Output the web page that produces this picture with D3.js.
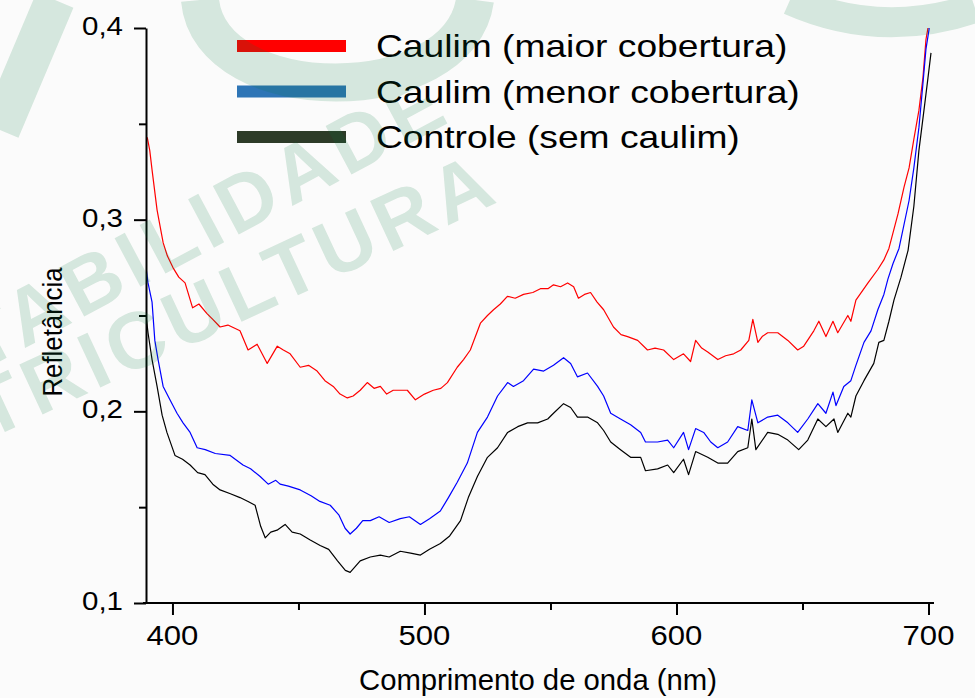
<!DOCTYPE html>
<html>
<head>
<meta charset="utf-8">
<script src="https://cdn.jsdelivr.net/npm/d3@7"></script>
<style>
  body { margin: 0; background: #fbfbfb; }
  svg { display: block; }
</style>
</head>
<body>
<div id="chart"></div>
<script>
let font = "Liberation Sans, Arial, sans-serif"

// dados: [comprimento de onda (nm), refletância]
let maiorCobertura = [
    [390.0, 0.343], [391.0, 0.336], [391.9, 0.326], [393.9, 0.305], [396.3, 0.288], [398.0, 0.281],
    [400.2, 0.275], [402.5, 0.270], [405.0, 0.267], [408.0, 0.254], [410.5, 0.256], [413.7, 0.251],
    [416.0, 0.248], [418.9, 0.244], [422.0, 0.245], [426.8, 0.242], [430.0, 0.232], [433.6, 0.235],
    [437.6, 0.225], [441.6, 0.234], [444.0, 0.232], [446.7, 0.230], [450.7, 0.223], [454.0, 0.224],
    [457.4, 0.221], [460.5, 0.216], [463.8, 0.213], [466.5, 0.209], [469.4, 0.207], [471.7, 0.208],
    [474.5, 0.211], [477.3, 0.215], [480.0, 0.212], [482.5, 0.213], [485.0, 0.209], [487.6, 0.211],
    [490.4, 0.211], [493.2, 0.211], [496.4, 0.206], [500.0, 0.209], [503.5, 0.211], [506.5, 0.212],
    [509.1, 0.215], [513.0, 0.223], [515.5, 0.227], [518.2, 0.232], [522.2, 0.246], [525.0, 0.250],
    [527.4, 0.253], [530.1, 0.256], [532.9, 0.260], [536.0, 0.259], [539.3, 0.261], [543.0, 0.262],
    [546.0, 0.264], [549.0, 0.264], [551.2, 0.266], [554.0, 0.265], [556.8, 0.267], [559.2, 0.265],
    [561.1, 0.259], [563.5, 0.261], [565.9, 0.262], [568.5, 0.257], [571.1, 0.253], [575.0, 0.244],
    [578.0, 0.240], [580.6, 0.239], [584.6, 0.237], [588.5, 0.232], [591.5, 0.233], [594.9, 0.232],
    [598.9, 0.227], [602.8, 0.230], [605.6, 0.226], [607.6, 0.237], [610.0, 0.233], [612.4, 0.231],
    [616.4, 0.227], [619.5, 0.229], [622.7, 0.230], [625.5, 0.232], [628.7, 0.237], [630.3, 0.248],
    [632.3, 0.236], [634.0, 0.239], [636.2, 0.241], [640.2, 0.241], [644.2, 0.237], [648.1, 0.232],
    [650.5, 0.234], [654.5, 0.242], [656.5, 0.247], [659.3, 0.239], [662.1, 0.247], [664.0, 0.241],
    [668.0, 0.250], [669.2, 0.247], [671.2, 0.258], [676.0, 0.267], [679.9, 0.274], [682.3, 0.279],
    [684.3, 0.285], [687.9, 0.303], [690.3, 0.317], [692.3, 0.327], [694.2, 0.342], [696.2, 0.357],
    [697.8, 0.374], [699.0, 0.394], [699.8, 0.400], [700.4, 0.410]
];

let menorCobertura = [
    [389.5, 0.275], [390.3, 0.267], [391.9, 0.257], [393.0, 0.237], [394.3, 0.227], [396.3, 0.213],
    [399.0, 0.206], [401.8, 0.199], [404.2, 0.194], [407.0, 0.189], [409.8, 0.181], [413.0, 0.180],
    [417.0, 0.178], [422.9, 0.177], [428.0, 0.172], [431.0, 0.170], [434.8, 0.166], [438.0, 0.162],
    [441.0, 0.164], [442.7, 0.162], [446.0, 0.161], [450.7, 0.159], [455.0, 0.156], [458.5, 0.153],
    [462.6, 0.151], [466.0, 0.146], [468.5, 0.139], [470.5, 0.136], [473.0, 0.139], [475.5, 0.143],
    [478.5, 0.143], [482.0, 0.145], [486.0, 0.142], [490.4, 0.144], [494.0, 0.145], [498.4, 0.141],
    [502.0, 0.144], [506.3, 0.148], [509.5, 0.155], [513.0, 0.163], [517.0, 0.173], [521.0, 0.189],
    [525.0, 0.197], [529.0, 0.208], [533.0, 0.215], [535.3, 0.213], [539.3, 0.216], [543.3, 0.222],
    [547.3, 0.221], [551.2, 0.224], [555.2, 0.228], [558.0, 0.225], [560.7, 0.218], [564.7, 0.220],
    [568.7, 0.213], [571.1, 0.208], [573.9, 0.199], [577.8, 0.196], [581.8, 0.193], [585.8, 0.189],
    [587.7, 0.184], [592.5, 0.184], [596.5, 0.185], [598.9, 0.181], [602.8, 0.189], [604.8, 0.180],
    [607.6, 0.191], [610.8, 0.189], [613.6, 0.184], [616.4, 0.181], [620.3, 0.184], [624.3, 0.192],
    [628.3, 0.190], [629.9, 0.206], [632.3, 0.194], [636.2, 0.197], [640.2, 0.198], [644.2, 0.194],
    [648.1, 0.189], [652.1, 0.196], [656.1, 0.204], [659.3, 0.199], [662.1, 0.210], [663.3, 0.203],
    [666.4, 0.213], [669.2, 0.216], [671.2, 0.224], [674.4, 0.236], [677.2, 0.242], [679.9, 0.253],
    [682.3, 0.261], [683.9, 0.269], [685.9, 0.277], [688.3, 0.285], [692.3, 0.310], [694.2, 0.327],
    [696.2, 0.348], [697.8, 0.371], [699.0, 0.389], [700.2, 0.399], [700.8, 0.410]
];

let controle = [
    [389.5, 0.250], [390.3, 0.241], [391.9, 0.227], [393.9, 0.213], [395.9, 0.198], [397.8, 0.189],
    [401.0, 0.177], [404.0, 0.175], [407.0, 0.172], [410.0, 0.168], [412.9, 0.167], [416.0, 0.162],
    [418.9, 0.159], [423.0, 0.157], [426.8, 0.155], [430.0, 0.153], [432.8, 0.151], [435.0, 0.140],
    [436.8, 0.134], [439.0, 0.137], [441.5, 0.138], [444.7, 0.141], [447.5, 0.137], [450.7, 0.136],
    [454.5, 0.133], [458.6, 0.130], [462.0, 0.128], [465.5, 0.122], [468.6, 0.117], [470.5, 0.116],
    [472.5, 0.119], [474.5, 0.122], [478.5, 0.124], [482.5, 0.125], [486.0, 0.124], [490.4, 0.127],
    [494.5, 0.126], [498.4, 0.125], [502.0, 0.128], [506.3, 0.131], [510.0, 0.135], [514.3, 0.143],
    [517.4, 0.155], [521.0, 0.166], [525.0, 0.176], [529.0, 0.181], [533.0, 0.189], [537.0, 0.192],
    [540.9, 0.194], [544.9, 0.194], [548.9, 0.196], [551.2, 0.199], [555.2, 0.204], [558.0, 0.202],
    [560.7, 0.197], [564.7, 0.197], [568.7, 0.194], [571.1, 0.190], [573.9, 0.184], [577.8, 0.180],
    [581.8, 0.176], [585.8, 0.176], [587.7, 0.169], [592.5, 0.170], [596.5, 0.172], [598.9, 0.168],
    [602.8, 0.175], [604.8, 0.167], [607.6, 0.179], [612.4, 0.176], [616.4, 0.173], [620.3, 0.173],
    [624.3, 0.179], [628.3, 0.181], [629.9, 0.196], [631.5, 0.180], [636.2, 0.189], [640.2, 0.188],
    [644.2, 0.185], [648.5, 0.180], [652.1, 0.185], [656.1, 0.196], [659.3, 0.192], [662.5, 0.196],
    [664.0, 0.189], [668.0, 0.199], [669.2, 0.197], [671.2, 0.208], [674.4, 0.216], [678.3, 0.225],
    [680.3, 0.236], [682.3, 0.237], [684.3, 0.247], [686.3, 0.258], [689.1, 0.270], [691.9, 0.284],
    [694.2, 0.307], [696.2, 0.336], [698.2, 0.357], [699.8, 0.374], [701.0, 0.387]
];

let seriesNamen = ["Caulim (maior cobertura)", "Caulim (menor cobertura)", "Controle (sem caulim)"];
let linienFarben = ["#ff0000", "#0000ff", "#000000"];
let legendeFarben = ["#ff0000", "#2e75b6", "#2d3b28"];

let xTicks = [400, 500, 600, 700];
let xMinorTicks = [450, 550, 650];
let yTicks = [0.1, 0.2, 0.3, 0.4];
let yMinorTicks = [0.15, 0.25, 0.35];

let width = 975, height = 698;

let svg = d3.select("#chart").append("svg")
    .attr("width", width)
    .attr("height", height);

svg.append("rect").attr("width", width).attr("height", height).attr("fill", "#fbfbfb");

// scales
let x = d3.scaleLinear().domain([389.5, 701]).range([146, 931]);
let y = d3.scaleLinear().domain([0.1, 0.4]).range([603, 28]);

let komma = d3.formatLocale({ decimal: ",", thousands: ".", grouping: [3], currency: ["R$", ""] }).format(".1f");

svg.append("clipPath").attr("id", "plotclip")
    .append("rect").attr("x", 146).attr("y", 28).attr("width", 790).attr("height", 575);

// linien
let linie = d3.line()
    .x(d => x(d[0]))
    .y(d => y(d[1]));

[maiorCobertura, menorCobertura, controle].forEach((reihe, i) => {
    svg.append("path")
        .datum(reihe)
        .attr("clip-path", "url(#plotclip)")
        .attr("fill", "none")
        .attr("stroke", linienFarben[i])
        .attr("stroke-width", 1.2)
        .attr("stroke-linejoin", "round")
        .attr("d", linie);
});

// achsen
let xAchse = svg.append("g").attr("transform", "translate(0,603)");
xAchse.call(d3.axisBottom(x).tickValues(xTicks).tickSize(12).tickSizeOuter(0).tickFormat(""));
xAchse.append("g").call(d3.axisBottom(x).tickValues(xMinorTicks).tickSize(7).tickSizeOuter(0).tickFormat(""))
    .select(".domain").remove();
xAchse.select(".domain").attr("d", "M143,0H934");
xAchse.selectAll("line, path").attr("stroke", "#000").attr("stroke-width", 2);

let yAchse = svg.append("g").attr("transform", "translate(146,0)");
yAchse.call(d3.axisLeft(y).tickValues(yTicks).tickSize(12).tickSizeOuter(0).tickFormat(""));
yAchse.append("g").call(d3.axisLeft(y).tickValues(yMinorTicks).tickSize(7).tickSizeOuter(0).tickFormat(""))
    .select(".domain").remove();
yAchse.selectAll("line, path").attr("stroke", "#000").attr("stroke-width", 2);

// tick beschriftungen
svg.selectAll(".xlabel").data(xTicks).enter().append("text")
    .attr("class", "xlabel")
    .attr("transform", d => "translate(" + x(d) + ",645) scale(1.11,1)")
    .attr("text-anchor", "middle")
    .attr("font-family", font)
    .attr("font-size", "28px")
    .attr("fill", "#000")
    .text(d => d);

svg.selectAll(".ylabel").data(yTicks).enter().append("text")
    .attr("class", "ylabel")
    .attr("transform", d => "translate(123," + (y(d) + 7) + ") scale(1.18,1)")
    .attr("text-anchor", "end")
    .attr("font-family", font)
    .attr("font-size", "25px")
    .attr("fill", "#000")
    .text(d => komma(d));

// achsentitel
svg.append("text")
    .attr("x", 538).attr("y", 690)
    .attr("text-anchor", "middle")
    .attr("font-family", font)
    .attr("font-size", "29px")
    .attr("textLength", 358)
    .attr("lengthAdjust", "spacingAndGlyphs")
    .text("Comprimento de onda (nm)");

svg.append("text")
    .attr("transform", "translate(62,332) rotate(-90)")
    .attr("text-anchor", "middle")
    .attr("font-family", font)
    .attr("font-size", "27px")
    .attr("textLength", 129)
    .attr("lengthAdjust", "spacingAndGlyphs")
    .text("Refletância");

// legende
let legende = svg.append("g");
let legendeY = [46, 91.5, 137];
seriesNamen.forEach((name, i) => {
    legende.append("line")
        .attr("x1", 237).attr("x2", 346)
        .attr("y1", legendeY[i]).attr("y2", legendeY[i])
        .attr("stroke", legendeFarben[i])
        .attr("stroke-width", 12);
    legende.append("text")
        .attr("transform", "translate(376," + (legendeY[i] + 11) + ") scale(1.2,1)")
        .attr("font-family", font)
        .attr("font-size", "31px")
        .attr("fill", "#000")
        .text(name);
});

// wasserzeichen (blass, oben drauf)
let wz = svg.append("g").attr("fill", "#007a3c").attr("stroke", "#007a3c").attr("opacity", 0.15);
wz.append("path").attr("fill", "none").attr("stroke-width", 40).attr("d", "M0,130 L55,0");
wz.append("path").attr("fill", "none").attr("stroke-width", 38).attr("d", "M200,0 C210,110 460,110 475,0");
wz.append("path").attr("fill", "none").attr("stroke-width", 30).attr("d", "M790,0 Q880,40 975,8");
wz.append("text")
    .attr("transform", "translate(-20,372) rotate(-28)")
    .attr("stroke", "none")
    .attr("font-family", font)
    .attr("font-weight", "bold")
    .attr("font-size", "80px")
    .attr("letter-spacing", "6px")
    .text("TABILIDADE");
wz.append("text")
    .attr("transform", "translate(-12,440) rotate(-25)")
    .attr("stroke", "none")
    .attr("font-family", font)
    .attr("font-weight", "bold")
    .attr("font-size", "80px")
    .attr("letter-spacing", "6px")
    .text("TRICULTURA");
</script>
</body>
</html>
